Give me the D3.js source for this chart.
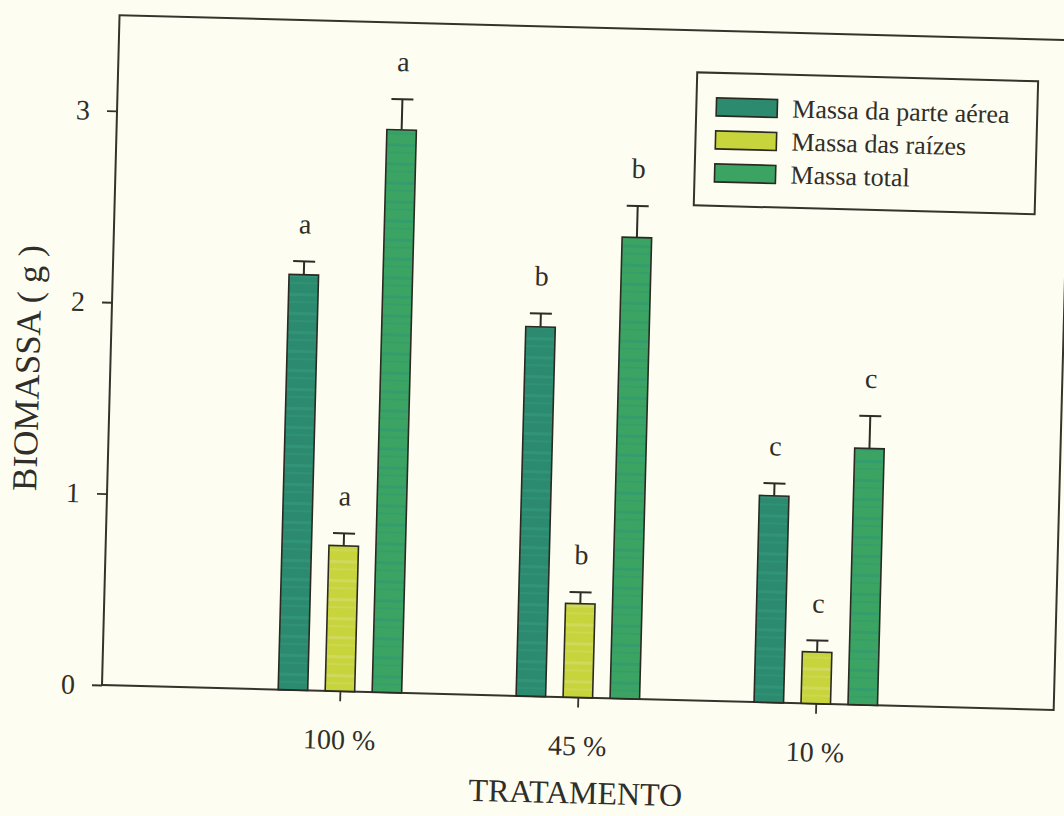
<!DOCTYPE html>
<html>
<head>
<meta charset="utf-8">
<script src="https://cdn.jsdelivr.net/npm/d3@7"></script>
<style>
  html, body { margin: 0; padding: 0; background: #fefdf1; }
  svg { display: block; }
  text { font-family: "Liberation Serif", "Times New Roman", serif; fill: #302e28; }
</style>
</head>
<body>
<svg id="chart" width="1064" height="816"></svg>
<script>
// Biomass per treatment (g), with standard errors and significance letters
const categories = ["100 %", "45 %", "10 %"];
const seriesNames = ["Massa da parte aérea", "Massa das raízes", "Massa total"];
const aerea = [2.17, 1.93, 1.08];
const aereaErr = [0.07, 0.07, 0.065];
const raizes = [0.76, 0.49, 0.27];
const raizesErr = [0.065, 0.06, 0.06];
const total = [2.94, 2.41, 1.34];
const totalErr = [0.16, 0.165, 0.17];
const letters = [["a", "a", "a"], ["b", "b", "b"], ["c", "c", "c"]];
const yTicks = [0, 1, 2, 3];

const seriesValues = [aerea, raizes, total];
const seriesErrors = [aereaErr, raizesErr, totalErr];
const colors = ["#2c8a6f", "#c8d43c", "#3ba462"];
const stripeColors = ["#33997d", "#d3dc6a", "#2f9a72"];

const W = 952, H = 670;
const svg = d3.select("#chart");
svg.append("rect").attr("width", 1064).attr("height", 816).attr("fill", "#fefdf1");

// horizontal streak fills for the bars
const defs = svg.append("defs");
colors.forEach((c, i) => {
  const p = defs.append("pattern")
    .attr("id", "fill" + i).attr("patternUnits", "userSpaceOnUse")
    .attr("width", 8).attr("height", 19);
  p.append("rect").attr("width", 8).attr("height", 19).attr("fill", c);
  p.append("rect").attr("y", 7).attr("width", 8).attr("height", 3)
    .attr("fill", stripeColors[i]).attr("opacity", 0.7);
  p.append("rect").attr("y", 15).attr("width", 8).attr("height", 2)
    .attr("fill", stripeColors[i]).attr("opacity", 0.45);
});

// the printed figure sits slightly tilted on the page
const g = svg.append("g")
  .attr("transform", "rotate(1.5, 102, 685) translate(102, 15)");

const y = d3.scaleLinear().domain([0, 3.5]).range([H, 0]);
const x = d3.scalePoint().domain(categories).range([0, W]).padding(1);
const xs = d3.scaleBand().domain(seriesNames).range([-61.75, 61.75]).paddingInner(0.372);

// frame
g.append("rect").attr("width", W).attr("height", H)
  .attr("fill", "none").attr("stroke", "#35332c").attr("stroke-width", 2);

// y axis
const yAxis = g.append("g").call(d3.axisLeft(y).tickValues(yTicks).tickSize(10).tickPadding(17).tickFormat(d3.format("d")));
yAxis.select(".domain").remove();
yAxis.selectAll("line").attr("stroke", "#35332c").attr("stroke-width", 1.8);
yAxis.selectAll("text").style("font-size", "28px").attr("fill", "#302e28");

// x axis
const xAxis = g.append("g").attr("transform", `translate(0,${H})`)
  .call(d3.axisBottom(x).tickSize(10).tickPadding(28));
xAxis.select(".domain").remove();
xAxis.selectAll("line").attr("stroke", "#35332c").attr("stroke-width", 1.8);
xAxis.selectAll("text").style("font-size", "28px").attr("fill", "#302e28");

// bars, error bars, letters
const rows = [];
categories.forEach((cat, ci) => {
  seriesNames.forEach((s, si) => {
    rows.push({ cat, s, si, v: seriesValues[si][ci], e: seriesErrors[si][ci], L: letters[ci][si] });
  });
});

const bw = xs.bandwidth();
const bars = g.append("g").selectAll("g").data(rows).join("g")
  .attr("transform", d => `translate(${x(d.cat) + xs(d.s)},0)`);

bars.append("line")
  .attr("x1", bw / 2).attr("x2", bw / 2)
  .attr("y1", d => y(d.v)).attr("y2", d => y(d.v + d.e))
  .attr("stroke", "#2e2c26").attr("stroke-width", 2);
bars.append("line")
  .attr("x1", bw / 2 - 11).attr("x2", bw / 2 + 11)
  .attr("y1", d => y(d.v + d.e)).attr("y2", d => y(d.v + d.e))
  .attr("stroke", "#2e2c26").attr("stroke-width", 2);
bars.append("rect")
  .attr("x", 0).attr("width", bw)
  .attr("y", d => y(d.v)).attr("height", d => y(0) - y(d.v))
  .attr("fill", d => `url(#fill${d.si})`)
  .attr("stroke", "#2b2a22").attr("stroke-width", 1.6);
bars.append("text")
  .attr("x", bw / 2).attr("y", d => y(d.v + d.e) - 28)
  .attr("text-anchor", "middle").style("font-size", "28px")
  .text(d => d.L);

// axis titles
g.append("text").attr("x", W / 2).attr("y", H + 106)
  .attr("text-anchor", "middle").style("font-size", "32px")
  .text("TRATAMENTO");
g.append("text")
  .attr("transform", `translate(-71, ${H - 315}) rotate(-90)`)
  .attr("text-anchor", "middle").style("font-size", "35px")
  .text("BIOMASSA ( g )");

// legend
const lg = g.append("g").attr("transform", "translate(579, 42)");
lg.append("rect").attr("width", 341).attr("height", 133)
  .attr("fill", "#fefdf1").attr("stroke", "#35332c").attr("stroke-width", 2);
const li = lg.selectAll("g").data(seriesNames).join("g")
  .attr("transform", (d, i) => `translate(20, ${34 + i * 33})`);
li.append("rect").attr("y", -9).attr("width", 61).attr("height", 18)
  .attr("fill", (d, i) => colors[i]).attr("stroke", "#2b2a22").attr("stroke-width", 1.6);
li.append("text").attr("x", 76).attr("dy", "0.33em")
  .style("font-size", "26px").text(d => d);
</script>
</body>
</html>
